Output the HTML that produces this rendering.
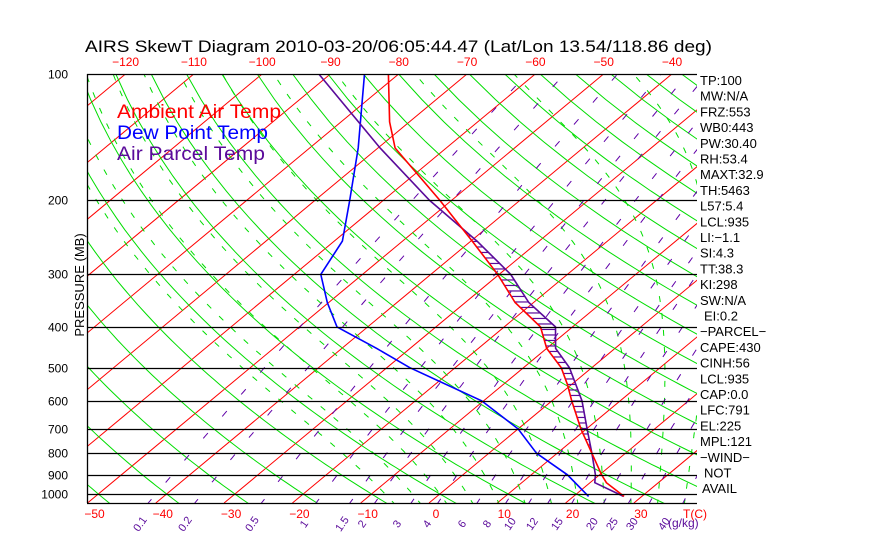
<!DOCTYPE html>
<html><head><meta charset="utf-8"><style>
html,body{margin:0;padding:0;background:#fff;}
svg{display:block;font-family:"Liberation Sans",sans-serif;}
</style></head><body>
<svg id="chart" width="870" height="560" viewBox="0 0 870 560" xmlns="http://www.w3.org/2000/svg">
<rect x="0" y="0" width="870" height="560" fill="#fff"/>
<defs><clipPath id="plotclip"><rect x="87" y="74" width="610" height="429"/></clipPath></defs>
<text x="85" y="52" font-size="16.5" textLength="627" lengthAdjust="spacingAndGlyphs" fill="#000">AIRS SkewT Diagram 2010-03-20/06:05:44.47 (Lat/Lon 13.54/118.86 deg)</text>
<g id="grid" clip-path="url(#plotclip)"></g>
<g id="series" clip-path="url(#plotclip)"></g>
<g id="frame"></g>
<g id="labels"></g>
<text x="117" y="118" font-size="19" fill="#ff0000" textLength="164" lengthAdjust="spacingAndGlyphs">Ambient Air Temp</text>
<text x="117" y="139" font-size="19" fill="#0000ff" textLength="151" lengthAdjust="spacingAndGlyphs">Dew Point Temp</text>
<text x="117" y="160" font-size="19" fill="#5a0a9a" textLength="148" lengthAdjust="spacingAndGlyphs">Air Parcel Temp</text>
<text x="0" y="0" font-size="13" fill="#000" text-anchor="middle" transform="translate(84,285) rotate(-90)">PRESSURE (MB)</text>
</svg>
<script>
// ---- data ----
var tempP = [100,130,150,200,250,300,350,400,450,500,550,600,700,800,900,940,1013];
var tempT = [-81.5,-72.9,-67.5,-51.7,-39.8,-30.2,-22.7,-14.7,-10.0,-4.5,-0.5,2.9,9.2,15.1,20.3,22.4,27.4];
var dewP = [100,150,200,250,300,350,400,450,500,600,700,800,900,1013];
var dewT = [-85.0,-72.9,-64.9,-58.8,-56.1,-50.2,-44.5,-34.9,-26.7,-10.3,0.0,7.0,15.3,22.2];
var parcelP = [100,150,200,250,300,350,400,450,500,600,700,800,900,940,1013];
var parcelT = [-91.7,-69.7,-53.2,-39.1,-28.3,-20.7,-12.5,-8.7,-3.3,4.4,10.1,15.1,19.4,20.7,27.3];
var pressureTicks = [100,200,300,400,500,600,700,800,900,1000];
var bottomTempTicks = [-50,-40,-30,-20,-10,0,10,20,30];
var topTempTicks = [-120,-110,-100,-90,-80,-70,-60,-50,-40];
var mixRatios = [0.1,0.2,0.5,1,1.5,2,3,4,6,8,10,12,15,20,25,30,40];
var mixLabels = ["0.1","0.2","0.5","1","1.5","2","3","4","6","8","10","12","15","20","25","30","40"];
var mixLabelX = [143,188,255,307,345,365,400,430,465,490,513,535,560,595,615,635,667];
var sideLabels = ["TP:100","MW:N/A","FRZ:553","WB0:443","PW:30.40","RH:53.4","MAXT:32.9","TH:5463","L57:5.4","LCL:935","LI:\u22121.1","SI:4.3","TT:38.3","KI:298","SW:N/A","EI:0.2","\u2212PARCEL\u2212","CAPE:430","CINH:56","LCL:935","CAP:0.0","LFC:791","EL:225","MPL:121","\u2212WIND\u2212","NOT","AVAIL"];

// ---- axes ----
var NS='http://www.w3.org/2000/svg';
function Y(p){return 494+182.4*Math.log(p/1000);}
function P(y){return 1000*Math.exp((y-494)/182.4);}
function X(T,y){return 429+6.83*T+1.203*(503-y);}
function mk(tag,attrs,parent){var e=document.createElementNS(NS,tag);for(var k in attrs)e.setAttribute(k,attrs[k]);parent.appendChild(e);return e;}
var grid=document.getElementById('grid'),series=document.getElementById('series'),frame=document.getElementById('frame'),labels=document.getElementById('labels');

function pathFromTP(Ts,Ps){var d='';for(var i=0;i<Ts.length;i++){var y=Y(Ps[i]);d+=(i?'L':'M')+X(Ts[i],y).toFixed(1)+' '+y.toFixed(1);}return d;}

// isotherms
for(var T=-160;T<=50;T+=10){
  var l=mk('line',{x1:X(T,503),y1:503,x2:X(T,74),y2:74,stroke:'#ff0000','stroke-width':1},grid);
  
  
}
// dry adiabats
for(var th=-60;th<=200;th+=10){
  var Ts=[],Ps=[];
  for(var p=1060;p>=95;p-=15){Ps.push(p);Ts.push((th+273.15)*Math.pow(p/1000,0.286)-273.15);}
  var e=mk('path',{d:pathFromTP(Ts,Ps),fill:'none',stroke:'#00dd00','stroke-width':1},grid);
  
  
}
// moist adiabats
function es(tc){return 6.112*Math.exp(17.67*tc/(tc+243.5));}
function dTdp(T,p){var tc=T-273.15;var e=es(tc);var rs=0.622*e/(p-e);return (287*T+2.5e6*rs)/(p*(1004+2.5e6*2.5e6*rs*0.622/(287*T*T)));}
for(var tw=-8;tw<=40;tw+=4){
  var Ts=[],Ps=[];var T=tw+273.15;var p=1000;
  var upT=[],upP=[];
  for(p=1000;p>=100;p-=5){upT.push(T-273.15);upP.push(p);T-=dTdp(T,p)*5;}
  T=tw+273.15;var dn=[],dnP=[];
  for(p=1000;p<=1060;p+=5){T+=dTdp(T,p)*5;dn.push(T-273.15);dnP.push(p+5);}
  Ts=dn.reverse().concat(upT);Ps=dnP.reverse().concat(upP);
  var e=mk('path',{d:pathFromTP(Ts,Ps),fill:'none',stroke:'#00dd00','stroke-width':1,'stroke-dasharray':'6 11'},grid);
  
  
}
// mixing ratio lines
for(var i=0;i<mixRatios.length;i++){
  var w=mixRatios[i],Ts=[],Ps=[];
  for(var p=1060;p>=95;p-=10){var e=w*p/(622+w);var L=Math.log(e/6.112);Ps.push(p);Ts.push(243.5*L/(17.67-L));}
  var m=mk('path',{d:pathFromTP(Ts,Ps),fill:'none',stroke:'#6000a8','stroke-width':1,'stroke-dasharray':'7 22'},grid);
  
  
}
// pressure lines
for(var i=0;i<pressureTicks.length;i++){
  var y=Math.round(Y(pressureTicks[i]))+0.5;
  var l=mk('line',{x1:87,y1:y,x2:697,y2:y,stroke:'#000','stroke-width':1.3},frame);
  
  
  var t=mk('text',{x:68,y:y+4,'font-size':12,'text-anchor':'end',fill:'#000'},labels);
  t.textContent=pressureTicks[i];
  
  
}
var bl=mk('line',{x1:87,y1:503.5,x2:697,y2:503.5,stroke:'#000','stroke-width':1.3},frame);


var ll=mk('line',{x1:87.5,y1:74,x2:87.5,y2:503,stroke:'#000','stroke-width':1.3},frame);



// hatching (parcel warmer than environment)
function interp(Ps,Ts,p){var lp=Math.log(p);for(var i=0;i<Ps.length-1;i++){var a=Math.log(Ps[i]),b=Math.log(Ps[i+1]);if(lp>=a&&lp<=b){return Ts[i]+(Ts[i+1]-Ts[i])*(lp-a)/(b-a);}}return null;}
for(var y=Y(150);y<=Y(1000);y+=5.5){
  var p=P(y);var ta=interp(tempP,tempT,p),tp=interp(parcelP,parcelT,p);
  if(ta===null||tp===null||tp<=ta+0.3)continue;
  var h=mk('line',{x1:X(ta,y),y1:y,x2:X(tp,y),y2:y,stroke:'#5a0a9a','stroke-width':1.2},series);
  
  
}
var dw=mk('path',{d:pathFromTP(dewT,dewP),fill:'none',stroke:'#0000ff','stroke-width':1.6},series);


var pc=mk('path',{d:pathFromTP(parcelT,parcelP),fill:'none',stroke:'#5a0a9a','stroke-width':1.6},series);


var tl=mk('path',{d:pathFromTP(tempT,tempP),fill:'none',stroke:'#ff0000','stroke-width':1.6},series);



// temperature tick labels
for(var i=0;i<bottomTempTicks.length;i++){
  var t=mk('text',{x:436+6.83*bottomTempTicks[i],y:518,'font-size':12,'text-anchor':'middle',fill:'#ff0000'},labels);
  t.textContent=bottomTempTicks[i]<0?'\u2212'+(-bottomTempTicks[i]):bottomTempTicks[i];
  
  
}
for(var i=0;i<topTempTicks.length;i++){
  var t=mk('text',{x:672+6.83*(topTempTicks[i]+40),y:66,'font-size':12,'text-anchor':'middle',fill:'#ff0000'},labels);
  t.textContent='\u2212'+(-topTempTicks[i]);
  
  
}
var tc=mk('text',{x:683,y:518,'font-size':12,fill:'#ff0000'},labels);
tc.textContent='T(C)';


for(var i=0;i<mixLabels.length;i++){
  var t=mk('text',{x:0,y:0,'font-size':11,'text-anchor':'middle',fill:'#5a0a9a',transform:'translate('+mixLabelX[i]+',526) rotate(-55)'},labels);
  t.textContent=mixLabels[i];
  
  
}
var gk=mk('text',{x:668,y:527,'font-size':12,fill:'#5a0a9a'},labels);
gk.textContent='(g/kg)';


for(var i=0;i<sideLabels.length;i++){
  var ind=(sideLabels[i]==='EI:0.2'||sideLabels[i]==='NOT')?704:(sideLabels[i]==='AVAIL'?702:700);
  var t=mk('text',{x:ind,y:85+i*15.7,'font-size':13,fill:'#000'},labels);
  t.textContent=sideLabels[i];
  
  
}
</script>
</body></html>
